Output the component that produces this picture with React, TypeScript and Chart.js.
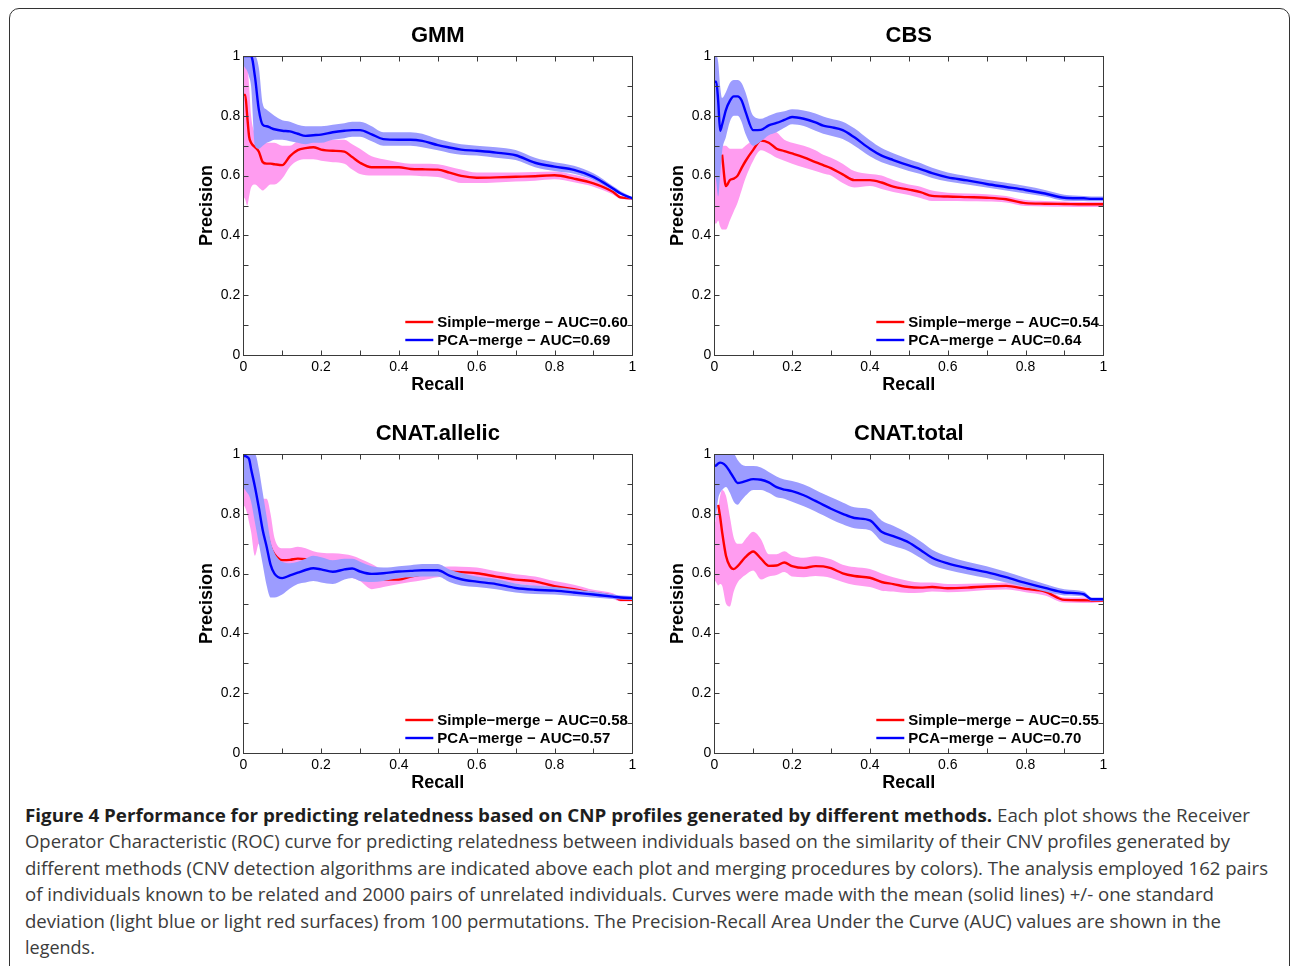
import React, { useEffect, useLayoutEffect, useRef } from "react";
import { Chart, registerables } from "chart.js";

Chart.register(...registerables);

// ---------- data ----------
const recall = [0, 0.005, 0.01, 0.015, 0.02, 0.03, 0.04, 0.05, 0.06, 0.07, 0.08, 0.1, 0.12, 0.14, 0.16, 0.18, 0.2, 0.23, 0.26, 0.28, 0.3, 0.33, 0.36, 0.4, 0.43, 0.46, 0.5, 0.53, 0.56, 0.6, 0.65, 0.7, 0.75, 0.8, 0.85, 0.9, 0.95, 0.97, 1.0];

const panelTitles = ["GMM", "CBS", "CNAT.allelic", "CNAT.total"];
const simpleAuc = [0.6, 0.54, 0.58, 0.55];
const pcaAuc = [0.69, 0.64, 0.57, 0.7];
const seriesNames = ["Simple\u2212merge", "PCA\u2212merge"];
const xAxisLabel = "Recall";
const yAxisLabel = "Precision";
const tickMarks = [0, 0.1, 0.2, 0.3, 0.4, 0.5, 0.6, 0.7, 0.8, 0.9, 1];
const tickLabels = ["0", "0.2", "0.4", "0.6", "0.8", "1"];

// GMM
const gmmPcaMean = [1.0, 1.0, 1.0, 1.0, 1.0, 0.93, 0.82, 0.77, 0.765, 0.76, 0.755, 0.75, 0.748, 0.74, 0.733, 0.735, 0.737, 0.745, 0.75, 0.752, 0.752, 0.738, 0.722, 0.72, 0.72, 0.716, 0.702, 0.694, 0.687, 0.683, 0.677, 0.668, 0.643, 0.63, 0.619, 0.596, 0.557, 0.54, 0.524];
const gmmPcaLow = [0.97, 0.96, 0.95, 0.93, 0.9, 0.7, 0.69, 0.7, 0.71, 0.715, 0.72, 0.72, 0.715, 0.71, 0.705, 0.71, 0.71, 0.72, 0.725, 0.73, 0.73, 0.715, 0.7, 0.7, 0.7, 0.695, 0.685, 0.676, 0.67, 0.667, 0.66, 0.652, 0.628, 0.615, 0.606, 0.585, 0.55, 0.535, 0.52];
const gmmPcaHigh = [1.0, 1.0, 1.0, 1.0, 1.0, 1.0, 0.96, 0.84, 0.82, 0.81, 0.8, 0.785, 0.78, 0.77, 0.765, 0.765, 0.765, 0.77, 0.775, 0.78, 0.78, 0.765, 0.745, 0.745, 0.745, 0.74, 0.722, 0.712, 0.705, 0.7, 0.695, 0.686, 0.66, 0.645, 0.633, 0.608, 0.565, 0.548, 0.528];
const gmmSimpleMean = [0.87, 0.87, 0.8, 0.73, 0.71, 0.695, 0.68, 0.645, 0.64, 0.64, 0.638, 0.635, 0.665, 0.685, 0.692, 0.695, 0.687, 0.683, 0.68, 0.662, 0.643, 0.628, 0.628, 0.628, 0.622, 0.621, 0.62, 0.61, 0.599, 0.593, 0.594, 0.596, 0.598, 0.601, 0.59, 0.574, 0.546, 0.527, 0.524];
const gmmSimpleLow = [0.53, 0.52, 0.5, 0.53, 0.56, 0.57, 0.56, 0.55, 0.56, 0.57, 0.57, 0.59, 0.63, 0.65, 0.655, 0.655, 0.65, 0.645, 0.64, 0.62, 0.605, 0.6, 0.6, 0.6, 0.6, 0.598, 0.595, 0.585, 0.575, 0.575, 0.577, 0.58, 0.583, 0.588, 0.578, 0.563, 0.537, 0.522, 0.52];
const gmmSimpleHigh = [1.0, 1.0, 0.98, 0.9, 0.8, 0.74, 0.72, 0.72, 0.71, 0.71, 0.71, 0.7, 0.7, 0.715, 0.72, 0.72, 0.72, 0.72, 0.72, 0.705, 0.69, 0.665, 0.655, 0.645, 0.64, 0.64, 0.638, 0.63, 0.62, 0.61, 0.61, 0.61, 0.612, 0.614, 0.603, 0.585, 0.555, 0.533, 0.528];

// CBS
const cbsPcaMean = [0.914, 0.914, 0.85, 0.75, 0.77, 0.82, 0.85, 0.865, 0.865, 0.852, 0.815, 0.752, 0.753, 0.768, 0.776, 0.786, 0.796, 0.79, 0.778, 0.767, 0.762, 0.752, 0.728, 0.69, 0.667, 0.652, 0.634, 0.622, 0.608, 0.594, 0.584, 0.572, 0.562, 0.552, 0.54, 0.526, 0.524, 0.522, 0.522];
const cbsPcaLow = [0.62, 0.58, 0.53, 0.6, 0.68, 0.73, 0.78, 0.8, 0.8, 0.78, 0.74, 0.7, 0.715, 0.735, 0.745, 0.76, 0.772, 0.766, 0.75, 0.74, 0.733, 0.722, 0.7, 0.665, 0.645, 0.632, 0.615, 0.605, 0.592, 0.58, 0.57, 0.56, 0.55, 0.54, 0.53, 0.516, 0.515, 0.514, 0.514];
const cbsPcaHigh = [1.0, 1.0, 0.98, 0.9, 0.86, 0.88, 0.91, 0.92, 0.92, 0.91, 0.88, 0.8, 0.79, 0.8, 0.81, 0.815, 0.822, 0.818, 0.808, 0.798, 0.79, 0.78, 0.758, 0.718, 0.692, 0.675, 0.655, 0.642, 0.626, 0.61, 0.598, 0.586, 0.576, 0.565, 0.552, 0.536, 0.532, 0.53, 0.53];
const cbsSimpleMean = [null, null, null, null, 0.67, 0.565, 0.585, 0.59, 0.6, 0.625, 0.648, 0.686, 0.717, 0.71, 0.69, 0.682, 0.674, 0.661, 0.645, 0.635, 0.625, 0.604, 0.585, 0.585, 0.577, 0.563, 0.553, 0.545, 0.532, 0.53, 0.528, 0.526, 0.521, 0.508, 0.506, 0.505, 0.504, 0.504, 0.504];
const cbsSimpleLow = [0.44, 0.44, 0.45, 0.43, 0.42, 0.42, 0.45, 0.48, 0.51, 0.55, 0.59, 0.65, 0.685, 0.675, 0.66, 0.65, 0.64, 0.627, 0.615, 0.607, 0.6, 0.575, 0.56, 0.565, 0.555, 0.545, 0.535, 0.525, 0.515, 0.515, 0.514, 0.513, 0.51, 0.498, 0.497, 0.496, 0.495, 0.495, 0.495];
const cbsSimpleHigh = [0.64, 0.68, 0.7, 0.7, 0.7, 0.7, 0.69, 0.69, 0.69, 0.69, 0.7, 0.72, 0.745, 0.75, 0.745, 0.72, 0.71, 0.7, 0.685, 0.67, 0.66, 0.64, 0.615, 0.605, 0.6, 0.585, 0.57, 0.563, 0.55, 0.543, 0.54, 0.538, 0.532, 0.518, 0.515, 0.513, 0.512, 0.512, 0.512];

// CNAT.allelic
const allelicPcaMean = [0.993, 0.993, 0.99, 0.983, 0.95, 0.89, 0.82, 0.745, 0.69, 0.63, 0.6, 0.585, 0.594, 0.603, 0.612, 0.618, 0.614, 0.606, 0.614, 0.617, 0.607, 0.599, 0.601, 0.607, 0.609, 0.611, 0.611, 0.593, 0.581, 0.573, 0.565, 0.552, 0.546, 0.543, 0.537, 0.53, 0.523, 0.52, 0.518];
const allelicPcaLow = [0.89, 0.88, 0.87, 0.86, 0.84, 0.77, 0.7, 0.63, 0.56, 0.52, 0.52, 0.53, 0.55, 0.565, 0.57, 0.575, 0.57, 0.565, 0.58, 0.585, 0.575, 0.572, 0.575, 0.585, 0.588, 0.59, 0.59, 0.572, 0.56, 0.555, 0.548, 0.537, 0.532, 0.53, 0.525, 0.52, 0.515, 0.513, 0.512];
const allelicPcaHigh = [1.0, 1.0, 1.0, 1.0, 1.0, 1.0, 0.95, 0.87, 0.79, 0.71, 0.67, 0.64, 0.635, 0.64, 0.65, 0.66, 0.655, 0.645, 0.65, 0.65, 0.64, 0.625, 0.62, 0.625, 0.628, 0.632, 0.632, 0.614, 0.602, 0.59, 0.582, 0.567, 0.56, 0.555, 0.548, 0.54, 0.531, 0.527, 0.525];
const allelicSimpleMean = [0.93, 0.93, 0.92, 0.91, 0.9, 0.86, 0.82, 0.78, 0.74, 0.69, 0.665, 0.645, 0.646, 0.65, 0.648, 0.642, 0.637, 0.63, 0.625, 0.62, 0.61, 0.592, 0.58, 0.58, 0.59, 0.598, 0.604, 0.606, 0.605, 0.601, 0.59, 0.58, 0.574, 0.558, 0.548, 0.535, 0.525, 0.512, 0.512];
const allelicSimpleLow = [0.83, 0.82, 0.8, 0.77, 0.74, 0.66, 0.7, 0.7, 0.7, 0.64, 0.62, 0.61, 0.61, 0.612, 0.61, 0.605, 0.6, 0.595, 0.59, 0.585, 0.575, 0.548, 0.555, 0.565, 0.572, 0.578, 0.588, 0.59, 0.59, 0.585, 0.575, 0.566, 0.558, 0.545, 0.535, 0.524, 0.515, 0.507, 0.507];
const allelicSimpleHigh = [1.0, 1.0, 0.99, 0.97, 0.95, 0.9, 0.87, 0.85, 0.85, 0.8, 0.72, 0.685, 0.685, 0.69, 0.685, 0.675, 0.67, 0.668, 0.665, 0.66, 0.65, 0.632, 0.612, 0.6, 0.608, 0.615, 0.622, 0.624, 0.623, 0.62, 0.608, 0.598, 0.59, 0.575, 0.563, 0.546, 0.534, 0.52, 0.518];

// CNAT.total
const totalPcaMean = [0.96, 0.962, 0.968, 0.971, 0.97, 0.96, 0.941, 0.92, 0.903, 0.905, 0.909, 0.916, 0.914, 0.905, 0.889, 0.881, 0.876, 0.862, 0.843, 0.83, 0.817, 0.8, 0.786, 0.778, 0.74, 0.725, 0.704, 0.679, 0.653, 0.634, 0.618, 0.605, 0.588, 0.569, 0.552, 0.537, 0.531, 0.514, 0.514];
const totalPcaLow = [0.76, 0.8, 0.85, 0.87, 0.88, 0.89, 0.87, 0.84, 0.83, 0.845, 0.86, 0.88, 0.88, 0.87, 0.855, 0.85, 0.84, 0.825, 0.808, 0.795, 0.782, 0.765, 0.752, 0.745, 0.708, 0.692, 0.675, 0.652, 0.628, 0.612, 0.598, 0.585, 0.57, 0.555, 0.54, 0.527, 0.523, 0.508, 0.508];
const totalPcaHigh = [1.0, 1.0, 1.0, 1.0, 1.0, 1.0, 1.0, 1.0, 0.98, 0.965, 0.96, 0.96, 0.955, 0.94, 0.925, 0.915, 0.91, 0.898, 0.88, 0.867, 0.855, 0.838, 0.822, 0.815, 0.778, 0.76, 0.733, 0.708, 0.68, 0.658, 0.64, 0.625, 0.606, 0.585, 0.565, 0.548, 0.54, 0.52, 0.52];
const totalSimpleMean = [null, null, 0.83, 0.79, 0.74, 0.66, 0.625, 0.615, 0.625, 0.64, 0.655, 0.674, 0.65, 0.626, 0.627, 0.637, 0.625, 0.619, 0.625, 0.624, 0.618, 0.601, 0.592, 0.586, 0.572, 0.565, 0.555, 0.553, 0.555, 0.551, 0.553, 0.557, 0.559, 0.549, 0.54, 0.512, 0.511, 0.51, 0.51];
const totalSimpleLow = [0.58, 0.57, 0.56, 0.565, 0.56, 0.5, 0.49, 0.54, 0.57, 0.585, 0.595, 0.61, 0.58, 0.59, 0.595, 0.605, 0.59, 0.588, 0.592, 0.59, 0.585, 0.572, 0.562, 0.555, 0.543, 0.54, 0.535, 0.536, 0.54, 0.538, 0.54, 0.545, 0.547, 0.538, 0.527, 0.503, 0.502, 0.502, 0.505];
const totalSimpleHigh = [0.76, 0.79, 0.82, 0.86, 0.88, 0.86, 0.79, 0.72, 0.7, 0.7, 0.715, 0.74, 0.715, 0.665, 0.665, 0.675, 0.66, 0.653, 0.658, 0.655, 0.648, 0.63, 0.622, 0.615, 0.6, 0.588, 0.575, 0.57, 0.57, 0.565, 0.566, 0.568, 0.57, 0.56, 0.553, 0.52, 0.52, 0.518, 0.515];

const captionBold = "Figure 4 Performance for predicting relatedness based on CNP profiles generated by different methods.";
const captionLines = [
  " Each plot shows the Receiver",
  "Operator Characteristic (ROC) curve for predicting relatedness between individuals based on the similarity of their CNV profiles generated by",
  "different methods (CNV detection algorithms are indicated above each plot and merging procedures by colors). The analysis employed 162 pairs",
  "of individuals known to be related and 2000 pairs of unrelated individuals. Curves were made with the mean (solid lines) +/- one standard",
  "deviation (light blue or light red surfaces) from 100 permutations. The Precision-Recall Area Under the Curve (AUC) values are shown in the",
  "legends.",
];

// ---------- styling ----------
const FONT = "'Liberation Sans', Arial, Helvetica, sans-serif";
const RED = "#ff0000";
const BLUE = "#0000ff";
const PINK_BAND = "#ff9cf0";
const BLUE_BAND = "#9c9cff";
const AXIS_COLOR = "#3a3a3a";

const panels = [
  { title: panelTitles[0], s: [gmmSimpleLow, gmmSimpleMean, gmmSimpleHigh], p: [gmmPcaLow, gmmPcaMean, gmmPcaHigh], aucS: simpleAuc[0], aucP: pcaAuc[0], left: 190, top: 14 },
  { title: panelTitles[1], s: [cbsSimpleLow, cbsSimpleMean, cbsSimpleHigh], p: [cbsPcaLow, cbsPcaMean, cbsPcaHigh], aucS: simpleAuc[1], aucP: pcaAuc[1], left: 661, top: 14 },
  { title: panelTitles[2], s: [allelicSimpleLow, allelicSimpleMean, allelicSimpleHigh], p: [allelicPcaLow, allelicPcaMean, allelicPcaHigh], aucS: simpleAuc[2], aucP: pcaAuc[2], left: 190, top: 412 },
  { title: panelTitles[3], s: [totalSimpleLow, totalSimpleMean, totalSimpleHigh], p: [totalPcaLow, totalPcaMean, totalPcaHigh], aucS: simpleAuc[3], aucP: pcaAuc[3], left: 661, top: 412 },
];

const pts = (ys: (number | null)[]) => recall.map((x, i) => ({ x, y: ys[i] }));

const frameTicksPlugin = {
  id: "frameTicks",
  afterDatasetsDraw(chart: any) {
    const { ctx, chartArea, scales } = chart;
    const { left, right, top, bottom } = chartArea;
    ctx.save();
    ctx.strokeStyle = AXIS_COLOR;
    ctx.lineWidth = 1;
    const L = Math.round(left) + 0.5, R = Math.round(right) + 0.5, T = Math.round(top) + 0.5, B = Math.round(bottom) + 0.5;
    ctx.strokeRect(L, T, R - L, B - T);
    ctx.beginPath();
    tickMarks.forEach((v) => {
      const px = Math.round(scales.x.getPixelForValue(v)) + 0.5;
      ctx.moveTo(px, B); ctx.lineTo(px, B - 5);
      ctx.moveTo(px, T); ctx.lineTo(px, T + 5);
      const py = Math.round(scales.y.getPixelForValue(v)) + 0.5;
      ctx.moveTo(L, py); ctx.lineTo(L + 5, py);
      ctx.moveTo(R, py); ctx.lineTo(R - 5, py);
    });
    ctx.stroke();
    ctx.restore();
  },
};

const panelTitlePlugin = {
  id: "panelTitle",
  afterDraw(chart: any, _args: any, opts: any) {
    const { ctx, chartArea } = chart;
    ctx.save();
    ctx.fillStyle = "#000";
    ctx.font = `bold 22px ${FONT}`;
    ctx.textAlign = "center";
    ctx.textBaseline = "alphabetic";
    ctx.fillText(opts.text || "", (chartArea.left + chartArea.right) / 2, chartArea.top - 14);
    ctx.restore();
  },
};

const insideLegendPlugin = {
  id: "insideLegend",
  afterDraw(chart: any, _args: any, opts: any) {
    const { ctx, chartArea } = chart;
    const x0 = chartArea.right - 227;
    const rows = [chartArea.bottom - 33, chartArea.bottom - 15];
    ctx.save();
    (opts.items || []).forEach((it: any, i: number) => {
      const y = rows[i];
      ctx.strokeStyle = it.color;
      ctx.lineWidth = 2.4;
      ctx.beginPath();
      ctx.moveTo(x0, y);
      ctx.lineTo(x0 + 28, y);
      ctx.stroke();
      ctx.fillStyle = "#000";
      ctx.font = `bold 15px ${FONT}`;
      ctx.textBaseline = "middle";
      ctx.textAlign = "left";
      ctx.fillText(it.text, x0 + 32, y + 0.5);
    });
    ctx.restore();
  },
};

const fmtTick = (v: any) => {
  const idx = Math.round(Number(v) / 0.2);
  return tickLabels[idx] ?? String(v);
};

function Panel({ cfg }: { cfg: any }) {
  const ref = useRef<HTMLCanvasElement | null>(null);
  useEffect(() => {
    const simpleLabel = `${seriesNames[0]} \u2212 AUC=${cfg.aucS.toFixed(2)}`;
    const pcaLabel = `${seriesNames[1]} \u2212 AUC=${cfg.aucP.toFixed(2)}`;
    const common = { pointRadius: 0, cubicInterpolationMode: "monotone", spanGaps: false };
    const chart = new Chart(ref.current as HTMLCanvasElement, {
      type: "line",
      data: {
        datasets: [
          { ...common, label: pcaLabel, data: pts(cfg.p[1]), borderColor: BLUE, borderWidth: 2.4, fill: false },
          { ...common, label: "pcaHigh", data: pts(cfg.p[2]), borderWidth: 0, borderColor: "rgba(0,0,0,0)", backgroundColor: BLUE_BAND, fill: "+1" },
          { ...common, label: "pcaLow", data: pts(cfg.p[0]), borderWidth: 0, borderColor: "rgba(0,0,0,0)", fill: false },
          { ...common, label: simpleLabel, data: pts(cfg.s[1]), borderColor: RED, borderWidth: 2.4, fill: false },
          { ...common, label: "simpleHigh", data: pts(cfg.s[2]), borderWidth: 0, borderColor: "rgba(0,0,0,0)", backgroundColor: PINK_BAND, fill: "+1" },
          { ...common, label: "simpleLow", data: pts(cfg.s[0]), borderWidth: 0, borderColor: "rgba(0,0,0,0)", fill: false },
        ] as any,
      },
      options: {
        animation: false,
        responsive: false,
        events: [],
        layout: { padding: { left: 6, right: 17.7, top: 42, bottom: 2 } },
        plugins: {
          legend: { display: false },
          tooltip: { enabled: false },
          title: { display: false },
          panelTitle: { text: cfg.title },
          insideLegend: { items: [{ text: simpleLabel, color: RED }, { text: pcaLabel, color: BLUE }] },
        } as any,
        scales: {
          x: {
            type: "linear",
            min: 0,
            max: 1,
            grid: { display: false, drawTicks: false },
            border: { display: false },
            ticks: { stepSize: 0.2, padding: 4, color: "#000", font: { family: FONT, size: 14 }, maxRotation: 0, autoSkip: false, callback: fmtTick },
            title: { display: true, text: xAxisLabel, color: "#000", font: { family: FONT, size: 18, weight: "bold", lineHeight: 1.2 }, padding: { top: 0, bottom: 0 } },
            afterFit: (s: any) => { s.height = 41; },
          },
          y: {
            type: "linear",
            min: 0,
            max: 1,
            grid: { display: false, drawTicks: false },
            border: { display: false },
            ticks: { stepSize: 0.2, padding: 3, color: "#000", font: { family: FONT, size: 14 }, callback: fmtTick },
            title: { display: true, text: yAxisLabel, color: "#000", font: { family: FONT, size: 18, weight: "bold", lineHeight: 1.2 }, padding: { top: 0, bottom: 0 } },
            afterFit: (s: any) => { s.width = 47.3; },
          },
        } as any,
      },
      plugins: [frameTicksPlugin, panelTitlePlugin, insideLegendPlugin],
    });
    return () => chart.destroy();
  }, []);
  return (
    <canvas
      ref={ref}
      width={460}
      height={384}
      style={{ position: "absolute", left: cfg.left, top: cfg.top, width: 460, height: 384 }}
    />
  );
}

const captionWidths = [1225, 1205, 1243, 1189, 1196, 0];

function Caption() {
  const refs = useRef<(HTMLDivElement | null)[]>([]);
  useLayoutEffect(() => {
    const fit = () => {
      refs.current.forEach((el, i) => {
        if (!el || !captionWidths[i]) return;
        el.style.transform = "none";
        const w = el.getBoundingClientRect().width;
        if (w > 0) el.style.transform = `scaleX(${captionWidths[i] / w})`;
      });
    };
    fit();
    if ((document as any).fonts && (document as any).fonts.ready) (document as any).fonts.ready.then(fit);
  }, []);
  const base: React.CSSProperties = {
    position: "absolute",
    left: 25,
    whiteSpace: "nowrap",
    transformOrigin: "0 0",
    fontFamily: "'Open Sans', 'Noto Sans', sans-serif",
    fontSize: 18,
    lineHeight: "26px",
    color: "#3c3c3c",
    display: "inline-block",
  };
  return (
    <>
      {captionLines.map((line, i) => (
        <div key={i} ref={(el) => { refs.current[i] = el; }} style={{ ...base, top: 802 + i * 26.4 }}>
          {i === 0 && <span style={{ fontWeight: 700, color: "#1e1e1e" }}>{captionBold}</span>}
          {line}
        </div>
      ))}
    </>
  );
}

export default function App() {
  return (
    <div style={{ position: "fixed", left: 0, top: 0, width: 1290, height: 966, overflow: "hidden", background: "#fff" }}>
      <div
        style={{
          position: "absolute",
          left: 9,
          top: 8,
          width: 1281,
          height: 1000,
          border: "1.5px solid #333",
          borderRadius: 10,
          boxSizing: "border-box",
        }}
      />
      {panels.map((cfg, i) => (
        <Panel key={i} cfg={cfg} />
      ))}
      <Caption />
    </div>
  );
}
